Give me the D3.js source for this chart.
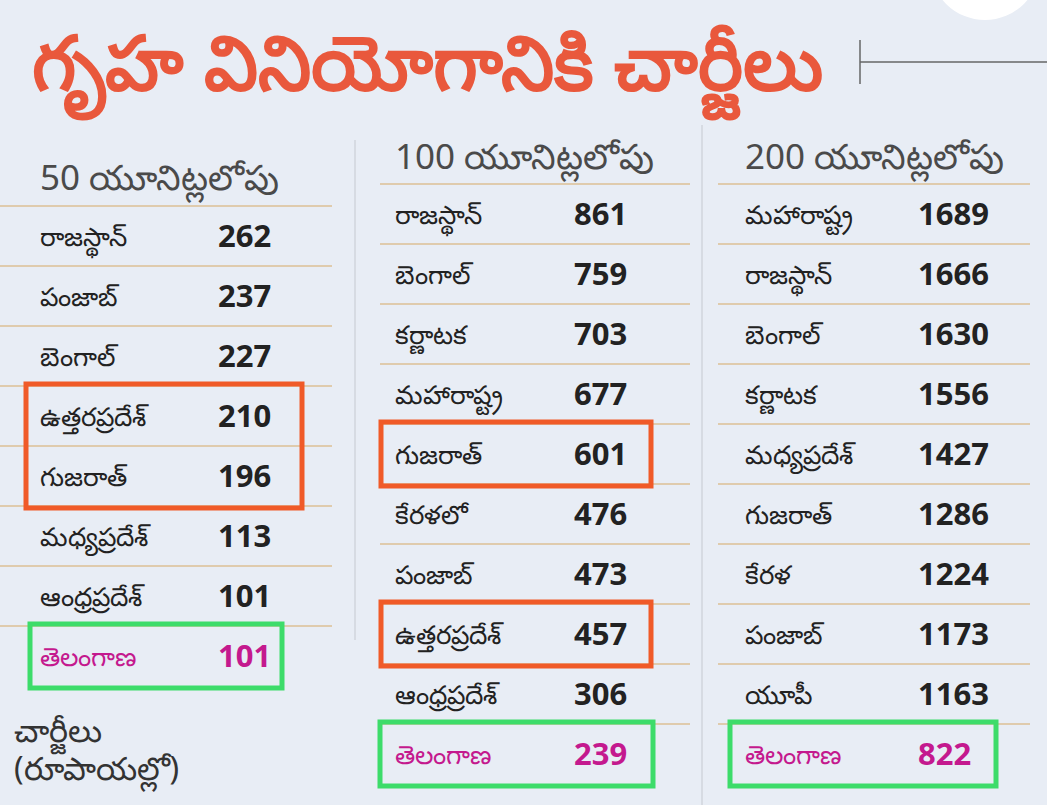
<!DOCTYPE html>
<html><head><meta charset="utf-8">
<script src="https://cdn.jsdelivr.net/npm/d3@7"></script>
<style>body{margin:0;background:#e8edf5;}svg{display:block;}</style>
</head><body>
<svg id="chart" width="1047" height="805"></svg>
<script>
// ## table data
var title = "గృహ వినియోగానికి చార్జీలు";
var headers = ["50 యూనిట్లలోపు", "100 యూనిట్లలోపు", "200 యూనిట్లలోపు"];
var states50 = ["రాజస్థాన్","పంజాబ్","బెంగాల్","ఉత్తరప్రదేశ్","గుజరాత్","మధ్యప్రదేశ్","ఆంధ్రప్రదేశ్","తెలంగాణ"];
var values50 = [262,237,227,210,196,113,101,101];
var states100 = ["రాజస్థాన్","బెంగాల్","కర్ణాటక","మహారాష్ట్ర","గుజరాత్","కేరళలో","పంజాబ్","ఉత్తరప్రదేశ్","ఆంధ్రప్రదేశ్","తెలంగాణ"];
var values100 = [861,759,703,677,601,476,473,457,306,239];
var states200 = ["మహారాష్ట్ర","రాజస్థాన్","బెంగాల్","కర్ణాటక","మధ్యప్రదేశ్","గుజరాత్","కేరళ","పంజాబ్","యూపీ","తెలంగాణ"];
var values200 = [1689,1666,1630,1556,1427,1286,1224,1173,1163,822];
var footnote = ["చార్జీలు", "(రూపాయల్లో)"];

var svg = d3.select("#chart");
var font = "'Noto Sans', 'DejaVu Sans', sans-serif";

svg.append("circle").attr("cx", 985).attr("cy", -35).attr("r", 55).attr("fill", "#fff");

svg.append("text").attr("x", 32).attr("y", 90).text(title)
    .attr("font-family", font).attr("font-size", 76).attr("font-weight", "bold").attr("fill", "#e9583c");
svg.append("line").attr("x1", 860).attr("x2", 1047).attr("y1", 62).attr("y2", 62).attr("stroke", "#666").attr("stroke-width", 1.5);
svg.append("line").attr("x1", 860).attr("x2", 860).attr("y1", 40).attr("y2", 84).attr("stroke", "#666").attr("stroke-width", 1.5);

// vertical dividers
svg.append("line").attr("x1", 355).attr("x2", 355).attr("y1", 140).attr("y2", 640).attr("stroke", "#c5c9d0");
svg.append("line").attr("x1", 702).attr("x2", 702).attr("y1", 125).attr("y2", 805).attr("stroke", "#c5c9d0");

var columns = [
    {states: states50, values: values50, x0: 0, x1: 332, nameX: 40, valX: 218, headY: 190, firstY: 236,
     orange: [[3,4]], green: [30, 282]},
    {states: states100, values: values100, x0: 380, x1: 690, nameX: 395, valX: 574, headY: 169, firstY: 214,
     orange: [[4,4],[7,7]], green: [380, 653]},
    {states: states200, values: values200, x0: 718, x1: 1030, nameX: 745, valX: 918, headY: 169, firstY: 214,
     orange: [], green: [730, 996]}
];
var step = 60;

columns.forEach(function(c, ci) {
    var y = d3.scaleLinear().domain([0, 1]).range([c.firstY, c.firstY + step]);
    var g = svg.append("g");
    g.append("text").attr("x", c.nameX).attr("y", c.headY).text(headers[ci])
        .attr("font-family", font).attr("font-size", 35).attr("fill", "#4a4a4a");
    // separator lines
    g.selectAll("line.sep").data(d3.range(c.states.length)).enter().append("line")
        .attr("x1", c.x0).attr("x2", c.x1)
        .attr("y1", function(i) { return y(i) - 30; }).attr("y2", function(i) { return y(i) - 30; })
        .attr("stroke", "#dcbf95").attr("stroke-width", 1.5);
    g.selectAll("text.name").data(c.states).enter().append("text")
        .attr("x", c.nameX).attr("y", function(d, i) { return y(i) + 10; })
        .text(function(d) { return d; })
        .attr("font-family", font).attr("font-size", 26)
        .attr("fill", function(d, i) { return i === c.states.length - 1 ? "#c4198e" : "#222"; });
    g.selectAll("text.val").data(c.values).enter().append("text")
        .attr("x", c.valX).attr("y", function(d, i) { return y(i) + 11; })
        .text(function(d) { return d; })
        .attr("font-family", font).attr("font-size", 31).attr("font-weight", "bold")
        .attr("fill", function(d, i) { return i === c.values.length - 1 ? "#c4198e" : "#222"; });
    c.orange.forEach(function(r) {
        g.append("rect").attr("x", c.nameX - 14).attr("width", c.x1 - c.nameX - (ci === 0 ? 16 : 25))
            .attr("y", y(r[0]) - 32).attr("height", y(r[1]) - y(r[0]) + 64)
            .attr("fill", "none").attr("stroke", "#f05a28").attr("stroke-width", 5);
    });
    var last = c.states.length - 1;
    g.append("rect").attr("x", c.green[0]).attr("width", c.green[1] - c.green[0])
        .attr("y", y(last) - 32).attr("height", 64)
        .attr("fill", "none").attr("stroke", "#3ddc6a").attr("stroke-width", 5);
});

svg.selectAll("text.foot").data(footnote).enter().append("text")
    .attr("x", 14).attr("y", function(d, i) { return 742 + i * 38; })
    .text(function(d) { return d; })
    .attr("font-family", font).attr("font-size", 32).attr("fill", "#333");
</script>
</body></html>
